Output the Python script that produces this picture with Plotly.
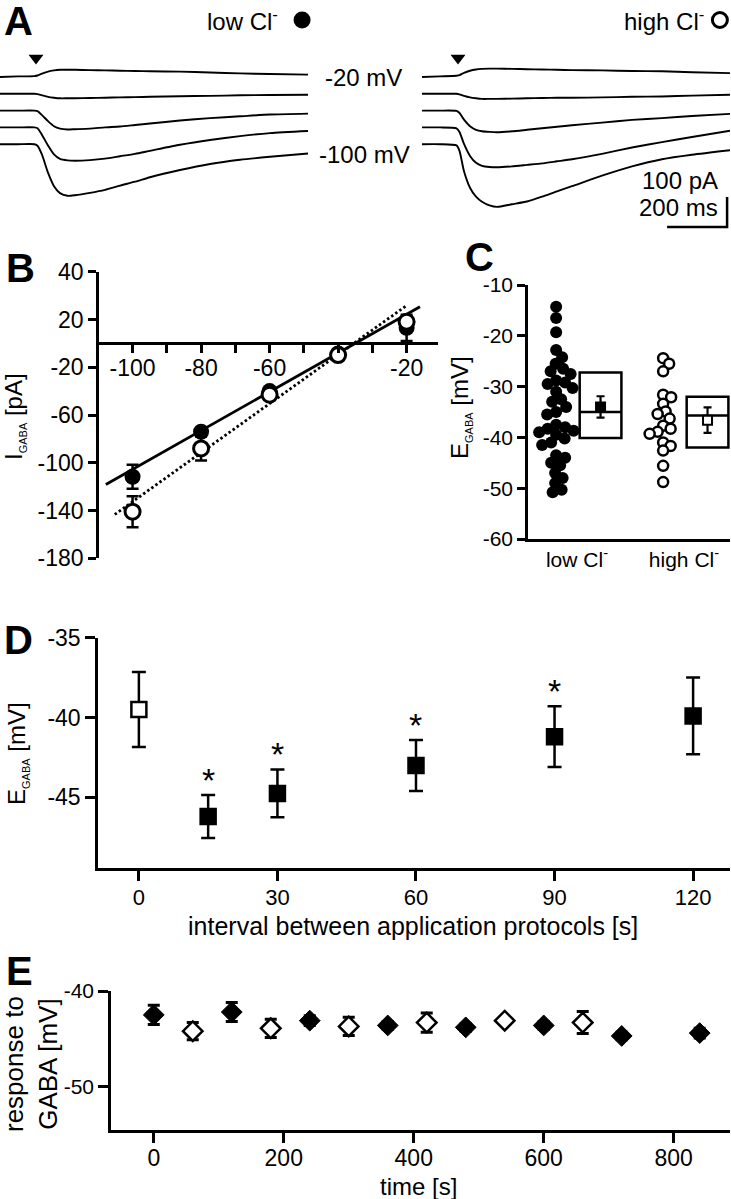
import plotly.graph_objects as go

W, H = 731, 1199
FONT = "Liberation Sans, Arial, Helvetica, sans-serif"

# ---------------- data ----------------
# Panel A: GABA-evoked currents (pA, relative to holding current), sampled at TRACE_T_MS
TRACE_T_MS = [0, 60, 115, 125, 140, 160, 180, 200, 225, 250, 300, 350, 400, 450, 500, 600, 700, 800, 900, 1027]
HOLD_MV = [-20, -40, -60, -80, -100]
LOW_CL_TRACES = [
    [0, 2, 3, 5, 11, 18, 22, 24, 24, 24, 23, 22, 21, 20, 19, 18, 15, 12, 10, 8],
    [0, 0, 0, -1, -5, -10, -13, -15, -15, -15, -14, -13, -12, -11, -10, -8, -7, -5, -4, -3],
    [0, 0, 0, -2, -15, -35, -52, -60, -63, -62, -60, -56, -53, -48, -43, -33, -25, -19, -13, -10],
    [0, 0, 0, -3, -25, -60, -90, -105, -110, -111, -109, -104, -96, -88, -78, -58, -42, -29, -19, -12],
    [0, 0, 0, -5, -35, -95, -140, -163, -172, -170, -162, -152, -138, -125, -110, -86, -66, -52, -42, -31],
]
HIGH_CL_TRACES = [
    [0, 2, 4, 6, 14, 21, 25, 27, 28, 28, 27, 26, 25, 24, 23, 22, 20, 19, 16, 13],
    [0, 0, 0, -2, -7, -12, -15, -17, -17, -17, -16, -15, -14, -13, -13, -12, -10, -9, -6, -3],
    [0, 0, -1, -8, -30, -52, -64, -69, -71, -72, -69, -64, -59, -54, -49, -40, -31, -25, -18, -11],
    [0, 0, -3, -15, -55, -95, -118, -128, -132, -133, -130, -125, -120, -113, -106, -88, -67, -49, -32, -11],
    [0, 0, -4, -22, -90, -145, -175, -192, -204, -209, -200, -191, -175, -157, -140, -105, -74, -50, -35, -20],
]
ONSET_MS = 120
SCALE_BAR_PA = 100
SCALE_BAR_MS = 200

# Panel B: I-V relation
B_VM = [-100, -80, -60, -40, -20]
B_LOW_I = [-111.7, -74.0, -40.0, -8.4, 13.0]
B_LOW_ERR = [10.0, 3.0, 2.0, 2.0, 11.0]
B_HIGH_I = [-141.0, -88.0, -43.0, -9.8, 18.0]
B_HIGH_ERR = [13.0, 10.0, 2.0, 2.0, 3.0]
B_FIT_LOW_X = [-107.8, -16.1]
B_FIT_LOW_Y = [-118.2, 30.7]
B_FIT_HIGH_X = [-105.2, -19.8]
B_FIT_HIGH_Y = [-143.3, 32.1]
B_XTICKS = [-100, -90, -80, -70, -60, -50, -40, -30, -20]
B_XTICKTEXT = ["-100", "", "-80", "", "-60", "", "", "", "-20"]
B_YTICKS = [60, 20, -20, -60, -100, -140, -180]
B_YTICKTEXT = ["40", "20", "-20", "-60", "-100", "-140", "-180"]

# Panel C: individual E_GABA values
C_CATEGORIES = ["low Cl<sup>-</sup>", "high Cl<sup>-</sup>"]
C_YTICKS = [-10, -20, -30, -40, -50, -60]
C_LOW = [-14.3, -16.5, -19.3, -22.8, -24.2, -25.5, -26.5, -27.0, -27.5, -28.8, -29.2, -29.5,
         -30.3, -31.0, -32.5, -33.0, -34.0, -35.0, -35.5, -37.5, -38.0, -38.3, -38.7, -39.0,
         -39.5, -40.2, -41.0, -41.5, -43.5, -44.0, -45.0, -45.5, -47.0, -48.0, -49.0, -50.3, -50.8]
C_HIGH = [-24.4, -25.5, -27.0, -31.6, -32.1, -33.4, -34.9, -35.4, -36.3, -37.7, -38.3, -38.9,
          -39.3, -41.0, -41.7, -42.6, -45.6, -48.8]
C_BOX_Q1 = [-40.1, -42.0]
C_BOX_MED = [-35.0, -35.7]
C_BOX_Q3 = [-27.2, -32.0]
C_MEAN = [-34.0, -36.6]
C_SEM = [2.1, 2.5]

# Panel D
D_INTERVAL = [0, 15, 30, 60, 90, 120]
D_MEAN = [-39.5, -46.2, -44.75, -43.0, -41.2, -39.9]
D_SEM = [2.35, 1.35, 1.5, 1.6, 1.9, 2.4]
D_SIG = [False, True, True, True, True, False]
D_CONTROL = [True, False, False, False, False, False]
D_XTICKS = [0, 30, 60, 90, 120]
D_YTICKS = [-35, -40, -45]

# Panel E
E_T_FILLED = [0, 120, 240, 360, 480, 600, 720, 840]
E_FILLED = [-42.5, -42.2, -43.1, -43.6, -43.8, -43.6, -44.7, -44.4]
E_FILLED_ERR = [1.0, 1.0, 0.5, 0.4, 0.4, 0.4, 0.4, 0.5]
E_T_OPEN = [60, 180, 300, 420, 540, 660]
E_OPEN = [-44.2, -43.9, -43.7, -43.3, -43.1, -43.3]
E_OPEN_ERR = [0.9, 0.95, 0.95, 1.0, 0.3, 1.15]
E_XTICKS = [0, 200, 400, 600, 800]
E_YTICKS = [-40, -50]


# ---------------- helpers ----------------
def fx(px):
    return px / W


def fy(py):
    return 1 - py / H


def xdom(a, b):
    return [fx(a), fx(b)]


def ydom(top, bottom):
    return [fy(bottom), fy(top)]


def lbl(v):
    return "%g" % v


def swarm_offsets(values, ypx_per_unit, diam_px, xpx_per_unit):
    order = sorted(range(len(values)), key=lambda i: values[i], reverse=True)
    cands = [0.0]
    for s in range(1, 80):
        cands += [s * 0.5, -s * 0.5]
    placed = []
    offs = [0.0] * len(values)
    for i in order:
        y = values[i] * ypx_per_unit
        chosen = 0.0
        for c in cands:
            if all((c - px) ** 2 + (y - py) ** 2 >= diam_px ** 2 for px, py in placed):
                chosen = c
                break
        placed.append((chosen, y))
        offs[i] = chosen / xpx_per_unit
    return offs


fig = go.Figure()
BLACK = "black"
LW = 2.5

# ---------------- Panel A ----------------
STACK_PA = 56
for k, tr in enumerate(LOW_CL_TRACES):
    fig.add_trace(go.Scatter(x=TRACE_T_MS, y=[v - k * STACK_PA for v in tr], mode="lines",
                             line=dict(color=BLACK, width=1.9, shape="spline", smoothing=0.6),
                             xaxis="x", yaxis="y", showlegend=False, hoverinfo="skip"))
for k, tr in enumerate(HIGH_CL_TRACES):
    fig.add_trace(go.Scatter(x=TRACE_T_MS, y=[v - k * STACK_PA for v in tr], mode="lines",
                             line=dict(color=BLACK, width=1.9, shape="spline", smoothing=0.6),
                             xaxis="x2", yaxis="y2", showlegend=False, hoverinfo="skip"))
for ax in (("x", "y"), ("x2", "y2")):
    fig.add_trace(go.Scatter(x=[ONSET_MS], y=[63], mode="markers",
                             marker=dict(symbol="triangle-down", size=13, color=BLACK),
                             xaxis=ax[0], yaxis=ax[1], showlegend=False, hoverinfo="skip"))
# legend symbols
fig.add_trace(go.Scatter(x=[1007], y=[190], mode="markers", marker=dict(symbol="circle", size=17, color=BLACK),
                         xaxis="x", yaxis="y", showlegend=False, hoverinfo="skip", cliponaxis=False))
fig.add_trace(go.Scatter(x=[993], y=[190], mode="markers",
                         marker=dict(symbol="circle", size=15, color="white", line=dict(color=BLACK, width=3)),
                         xaxis="x2", yaxis="y2", showlegend=False, hoverinfo="skip", cliponaxis=False))
# scale bar
SB_X = 1017
SB_Y = -500
fig.add_trace(go.Scatter(x=[SB_X - SCALE_BAR_MS, SB_X, SB_X], y=[SB_Y, SB_Y, SB_Y + SCALE_BAR_PA], mode="lines",
                         line=dict(color=BLACK, width=2.5), xaxis="x2", yaxis="y2",
                         showlegend=False, hoverinfo="skip", cliponaxis=False))

# ---------------- Panel B ----------------
fig.add_trace(go.Scatter(x=B_FIT_LOW_X, y=B_FIT_LOW_Y, mode="lines", line=dict(color=BLACK, width=2.8),
                         xaxis="x3", yaxis="y3", showlegend=False, hoverinfo="skip"))
fig.add_trace(go.Scatter(x=B_FIT_HIGH_X, y=B_FIT_HIGH_Y, mode="lines",
                         line=dict(color=BLACK, width=2.8, dash="2.5px,2.5px"),
                         xaxis="x3", yaxis="y3", showlegend=False, hoverinfo="skip"))
fig.add_trace(go.Scatter(x=B_VM, y=B_LOW_I, mode="markers",
                         marker=dict(symbol="circle", size=16, color=BLACK),
                         error_y=dict(type="data", array=B_LOW_ERR, color=BLACK, thickness=2.5, width=6),
                         xaxis="x3", yaxis="y3", showlegend=False, hoverinfo="skip", cliponaxis=False))
fig.add_trace(go.Scatter(x=B_VM, y=B_HIGH_I, mode="markers",
                         marker=dict(symbol="circle", size=15, color="white", line=dict(color=BLACK, width=3)),
                         error_y=dict(type="data", array=B_HIGH_ERR, color=BLACK, thickness=2.5, width=6),
                         xaxis="x3", yaxis="y3", showlegend=False, hoverinfo="skip", cliponaxis=False))

# ---------------- Panel C ----------------
C_YPX = 254 / 50.0
C_XPX = 107.0
DOT_SHIFT = -0.195
BOX_SHIFT = 0.22
low_off = swarm_offsets(C_LOW, C_YPX, 9.0, C_XPX)
high_off = swarm_offsets(C_HIGH, C_YPX, 8.0, C_XPX)
fig.add_trace(go.Scatter(x=[0 + DOT_SHIFT + o for o in low_off], y=C_LOW, mode="markers",
                         marker=dict(symbol="circle", size=12, color=BLACK),
                         xaxis="x4", yaxis="y4", showlegend=False, hoverinfo="skip"))
fig.add_trace(go.Scatter(x=[1 + DOT_SHIFT + o for o in high_off], y=C_HIGH, mode="markers",
                         marker=dict(symbol="circle", size=10, color="white", line=dict(color=BLACK, width=2.5)),
                         xaxis="x4", yaxis="y4", showlegend=False, hoverinfo="skip"))
for i in range(2):
    fig.add_trace(go.Box(x=[i + BOX_SHIFT], q1=[C_BOX_Q1[i]], median=[C_BOX_MED[i]], q3=[C_BOX_Q3[i]],
                         lowerfence=[C_BOX_Q1[i]], upperfence=[C_BOX_Q3[i]], width=0.39,
                         fillcolor="white", line=dict(color=BLACK, width=2.5), whiskerwidth=0,
                         boxpoints=False, xaxis="x4", yaxis="y4", showlegend=False, hoverinfo="skip"))
fig.add_trace(go.Scatter(x=[i + BOX_SHIFT for i in range(2)], y=C_MEAN, mode="markers",
                         marker=dict(symbol="square", size=9, color=[BLACK, "white"],
                                     line=dict(color=BLACK, width=2)),
                         error_y=dict(type="data", array=C_SEM, color=BLACK, thickness=2.2, width=4),
                         xaxis="x4", yaxis="y4", showlegend=False, hoverinfo="skip"))

# ---------------- Panel D ----------------
fig.add_trace(go.Scatter(x=D_INTERVAL, y=D_MEAN, mode="markers",
                         marker=dict(symbol="square", size=15,
                                     color=["white" if c else BLACK for c in D_CONTROL],
                                     line=dict(color=BLACK, width=2.5)),
                         error_y=dict(type="data", array=D_SEM, color=BLACK, thickness=2.5, width=7),
                         xaxis="x5", yaxis="y5", showlegend=False, hoverinfo="skip"))

# ---------------- Panel E ----------------
fig.add_trace(go.Scatter(x=E_T_FILLED, y=E_FILLED, mode="markers",
                         marker=dict(symbol="diamond", size=16, color=BLACK, line=dict(color=BLACK, width=1)),
                         error_y=dict(type="data", array=E_FILLED_ERR, color=BLACK, thickness=3, width=6),
                         xaxis="x6", yaxis="y6", showlegend=False, hoverinfo="skip"))
fig.add_trace(go.Scatter(x=E_T_OPEN, y=E_OPEN, mode="markers",
                         marker=dict(symbol="diamond", size=15, color="white", line=dict(color=BLACK, width=2.5)),
                         error_y=dict(type="data", array=E_OPEN_ERR, color=BLACK, thickness=3, width=6),
                         xaxis="x6", yaxis="y6", showlegend=False, hoverinfo="skip"))

# ---------------- axes ----------------
hidden = dict(visible=False, fixedrange=True)


def axstyle(size, **kw):
    d = dict(showline=True, linecolor=BLACK, linewidth=LW, ticks="outside", ticklen=8, tickwidth=LW,
             tickcolor=BLACK, showgrid=False, zeroline=False, tickfont=dict(family=FONT, size=size, color=BLACK),
             fixedrange=True, automargin=False, tickmode="array")
    d.update(kw)
    return d


layout_axes = dict(
    xaxis=dict(domain=xdom(0, 308.3), range=[0, 1027.7], anchor="y", **hidden),
    yaxis=dict(domain=ydom(0, 240), range=[-543.3, 256.7], anchor="x", **hidden),
    xaxis2=dict(domain=xdom(422, 730), range=[0, 1026.7], anchor="y2", **hidden),
    yaxis2=dict(domain=ydom(0, 240), range=[-543.3, 256.7], anchor="x2", **hidden),
    xaxis3=axstyle(23, domain=xdom(99, 438.3), range=[-109.8, -10.75], anchor="free", position=fy(343.3),
                   tickvals=B_XTICKS, ticktext=B_XTICKTEXT, ticklabelstandoff=-5),
    yaxis3=axstyle(23, domain=ydom(271.7, 558.3), range=[-180, 60], anchor="x3",
                   tickvals=B_YTICKS, ticktext=B_YTICKTEXT),
    xaxis4=axstyle(21, domain=xdom(528, 730), range=[-0.458, 1.43], anchor="y4", ticks="",
                   tickvals=[0, 1], ticktext=C_CATEGORIES),
    yaxis4=axstyle(21, domain=ydom(285, 539), range=[-60, -10], anchor="x4",
                   tickvals=C_YTICKS, ticktext=[lbl(v) for v in C_YTICKS]),
    xaxis5=axstyle(22, domain=xdom(98, 729.6), range=[-8.85, 127.9], anchor="y5", ticklen=10,
                   tickvals=D_XTICKS, ticktext=[lbl(v) for v in D_XTICKS], ticklabelstandoff=-2),
    yaxis5=axstyle(23, domain=ydom(637.7, 868.3), range=[-49.44, -35], anchor="x5", ticklen=10,
                   tickvals=D_YTICKS, ticktext=[lbl(v) for v in D_YTICKS]),
    xaxis6=axstyle(23, domain=xdom(111, 729.6), range=[-65.8, 886], anchor="y6", ticklen=10,
                   tickvals=E_XTICKS, ticktext=[lbl(v) for v in E_XTICKS], ticklabelstandoff=-4),
    yaxis6=axstyle(21, domain=ydom(991, 1130), range=[-54.53, -40], anchor="x6", ticklen=10,
                   tickvals=E_YTICKS, ticktext=[lbl(v) for v in E_YTICKS]),
)

# ---------------- text ----------------
ann = []


def text(x, y, s, size=24, xanchor="center", yanchor="middle", angle=0, bold=False):
    ann.append(dict(x=fx(x), y=fy(y), xref="paper", yref="paper", text=s, showarrow=False,
                    xanchor=xanchor, yanchor=yanchor, textangle=angle,
                    font=dict(family=FONT, size=size, color=BLACK, weight="bold" if bold else "normal")))


for letter, (x, y) in zip("ABCDE", [(2, 21), (4, 268), (463, 257), (2, 640), (4, 971)]):
    text(x, y, letter, size=40, xanchor="left", bold=True)

text(280, 20, "low Cl<sup>-</sup>", xanchor="right")
text(706, 20, "high Cl<sup>-</sup>", xanchor="right")
text(363, 77, "%d mV" % HOLD_MV[0])
text(364, 155, "%d mV" % HOLD_MV[-1])
text(720, 180, "%d pA" % SCALE_BAR_PA, xanchor="right")
text(720, 207, "%d ms" % SCALE_BAR_MS, xanchor="right")

SUB = '<sub><span style="font-size:11px">GABA</span></sub>'
text(15, 417, "I" + SUB + " [pA]", size=24, angle=-90)
text(461, 408, "E" + SUB + " [mV]", size=24, angle=-90)
text(17, 754, "E" + SUB + " [mV]", size=24, angle=-90)
text(413, 926, "interval between application protocols [s]", size=25)
text(31, 1064, "response to<br>GABA [mV]", size=26, angle=-90)
text(418, 1186, "time [s]", size=24)

for x, m, e, s in zip(D_INTERVAL, D_MEAN, D_SEM, D_SIG):
    if s:
        ann.append(dict(x=x, y=m + e, xref="x5", yref="y5", text="*", showarrow=False,
                        xanchor="center", yanchor="bottom", yshift=-6,
                        font=dict(family=FONT, size=34, color=BLACK)))

fig.update_layout(
    width=W, height=H, autosize=False,
    margin=dict(l=0, r=0, t=0, b=0, pad=0, autoexpand=False),
    paper_bgcolor="white", plot_bgcolor="rgba(0,0,0,0)",
    showlegend=False, boxmode="overlay",
    annotations=ann,
    font=dict(family=FONT, color=BLACK),
    **layout_axes,
)

fig.write_html("out.html", config={"displayModeBar": False},
               post_script="document.documentElement.style.overflow='hidden';"
                           "document.body.style.margin='0';document.body.style.padding='0';"
                           "document.body.style.overflow='hidden';")
